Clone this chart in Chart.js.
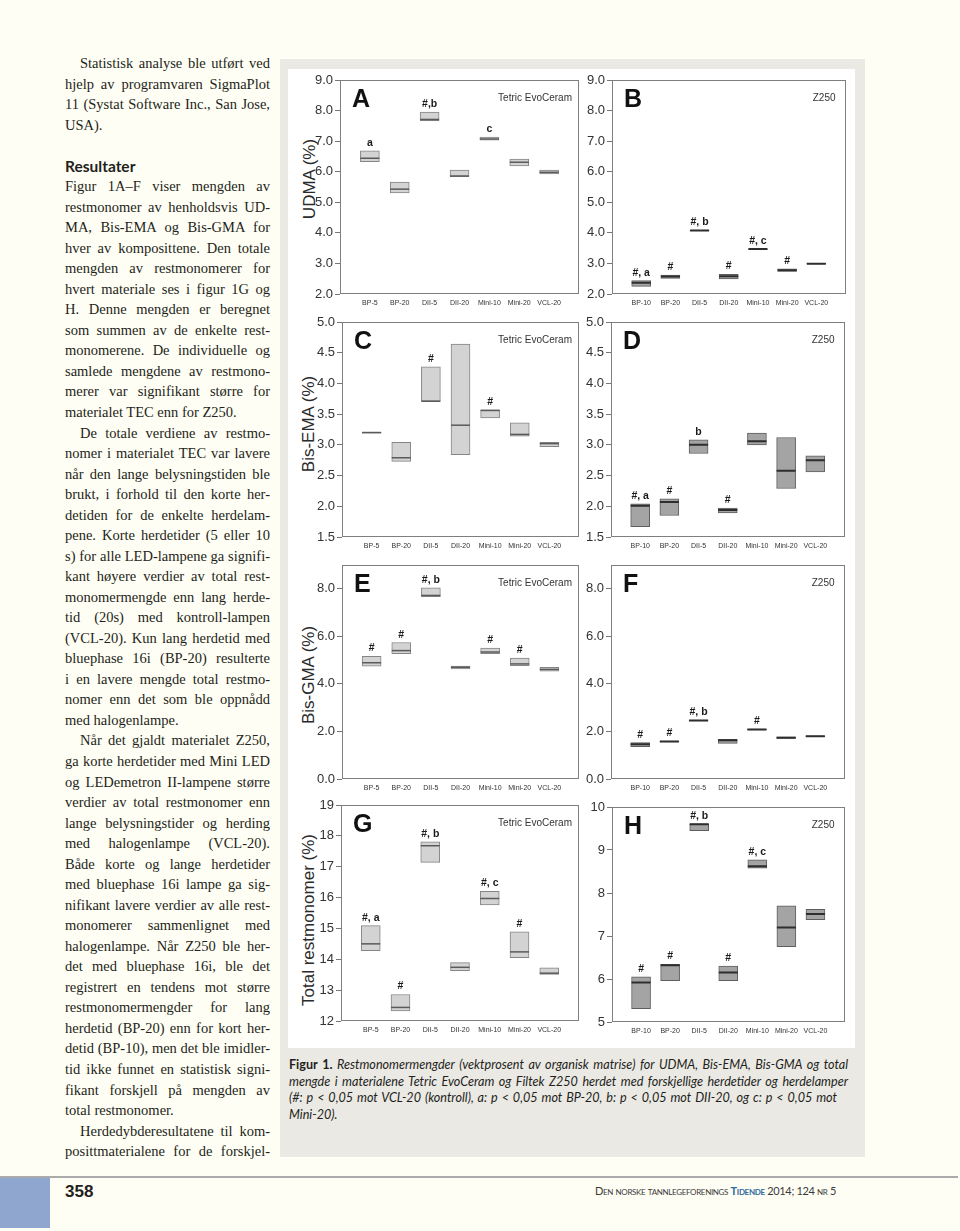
<!DOCTYPE html>
<html><head><meta charset="utf-8">
<script src="https://cdn.jsdelivr.net/npm/chart.js@4.4.1/dist/chart.umd.min.js"></script>
<style>
html,body{margin:0;padding:0;}
body{width:960px;height:1231px;background:#fffef4;position:relative;overflow:hidden;color:#231f20;}
.abs{position:absolute;}
#fig{left:280px;top:59px;width:585px;height:1098px;background:#ebe9e4;}
#white{left:288px;top:69px;width:567px;height:979px;background:#ffffff;}
.ln{position:absolute;left:65px;width:205px;white-space:nowrap;font-family:'Liberation Serif',serif;font-size:14.5px;line-height:20px;height:20px;}
.ln.head{font-family:Lato,'Open Sans',sans-serif;font-weight:700;font-size:15.5px;}
.cap{position:absolute;left:289px;white-space:nowrap;font-family:Lato,'Open Sans',sans-serif;font-style:italic;font-size:12.6px;line-height:16px;height:16px;}
.cap b{font-style:normal;font-weight:700;}
.ytitle{position:absolute;transform:translate(-50%,-50%) rotate(-90deg);white-space:nowrap;font-family:'Liberation Sans',Arial,sans-serif;font-size:17px;color:#2a2a2a;}
canvas{position:absolute;}
</style>
</head>
<body>
<div class="abs" id="fig"></div>
<div class="abs" id="white"></div>
<div class="ytitle" style="left:310px;top:179px">UDMA (%)</div>
<div class="ytitle" style="left:309px;top:424px">Bis-EMA (%)</div>
<div class="ytitle" style="left:309px;top:675px">Bis-GMA (%)</div>
<div class="ytitle" style="left:309px;top:920px">Total restmonomer (%)</div>
<div class="abs" style="left:0;top:1176px;width:958px;height:2px;background:#ababab"></div>
<div class="abs" style="left:0;top:1178px;width:50px;height:50px;background:#8fa6cf"></div>
<div class="abs" style="left:65px;top:1182px;font-family:'Liberation Sans Narrow','Liberation Sans',sans-serif;font-weight:700;font-size:17px;line-height:20px;color:#231f20">358</div>
<div class="abs" id="journal" style="left:595px;top:1184px;white-space:nowrap;font-family:Lato,'Open Sans',sans-serif;font-variant:small-caps;font-size:11px;line-height:14px;color:#3a3a3a"><span>Den norske tannlegeforenings <span style="color:#2f6b9c;font-weight:700">Tidende</span> 2014; 124 nr 5</span></div>
<script>
// ---------- DATA ----------
const tecCategories = ['BP-5','BP-20','DII-5','DII-20','Mini-10','Mini-20','VCL-20'];
const z250Categories = ['BP-10','BP-20','DII-5','DII-20','Mini-10','Mini-20','VCL-20'];

const udmaTicks = ['2.0','3.0','4.0','5.0','6.0','7.0','8.0','9.0'];
const bisEmaTicks = ['1.5','2.0','2.5','3.0','3.5','4.0','4.5','5.0'];
const bisGmaTicks = ['0.0','2.0','4.0','6.0','8.0'];
const totalTecTicks = ['12','13','14','15','16','17','18','19'];
const totalZ250Ticks = ['5','6','7','8','9','10'];

// A: UDMA, Tetric EvoCeram
const udmaTecLow    = [6.33, 5.31, 7.67, 5.84, 7.03, 6.19, 5.93];
const udmaTecHigh   = [6.68, 5.66, 7.95, 6.05, 7.13, 6.41, 6.05];
const udmaTecMedian = [6.44, 5.43, 7.71, 5.86, 7.07, 6.31, 5.98];
const udmaTecMarks  = ['a', '', '#,b', '', 'c', '', ''];
// B: UDMA, Z250
const udmaZLow    = [2.25, 2.51, 4.07, 2.49, 3.46, 2.74, 2.98];
const udmaZHigh   = [2.44, 2.62, 4.09, 2.64, 3.48, 2.82, 3.00];
const udmaZMedian = [2.37, 2.57, 4.08, 2.58, 3.47, 2.78, 2.99];
const udmaZMarks  = ['#, a', '#', '#, b', '#', '#, c', '#', ''];
// C: Bis-EMA, Tetric EvoCeram
const emaTecLow    = [3.19, 2.73, 3.71, 2.84, 3.44, 3.14, 2.97];
const emaTecHigh   = [3.21, 3.04, 4.27, 4.64, 3.57, 3.36, 3.04];
const emaTecMedian = [3.20, 2.79, 3.71, 3.32, 3.56, 3.17, 3.02];
const emaTecMarks  = ['', '', '#', '', '#', '', ''];
// D: Bis-EMA, Z250
const emaZLow    = [1.67, 1.85, 2.86, 1.89, 3.00, 2.29, 2.56];
const emaZHigh   = [2.04, 2.12, 3.08, 1.97, 3.19, 3.12, 2.82];
const emaZMedian = [2.01, 2.07, 3.00, 1.94, 3.06, 2.58, 2.75];
const emaZMarks  = ['#, a', '#', 'b', '#', '', '', ''];
// E: Bis-GMA, Tetric EvoCeram
const gmaTecLow    = [4.75, 5.27, 7.67, 4.63, 5.27, 4.77, 4.54];
const gmaTecHigh   = [5.16, 5.74, 8.04, 4.75, 5.51, 5.09, 4.70];
const gmaTecMedian = [4.89, 5.40, 7.72, 4.70, 5.34, 4.84, 4.61];
const gmaTecMarks  = ['#', '#', '#, b', '', '#', '#', ''];
// F: Bis-GMA, Z250
const gmaZLow    = [1.36, 1.56, 2.44, 1.50, 2.06, 1.71, 1.78];
const gmaZHigh   = [1.53, 1.60, 2.48, 1.67, 2.10, 1.77, 1.82];
const gmaZMedian = [1.46, 1.58, 2.46, 1.63, 2.08, 1.74, 1.80];
const gmaZMarks  = ['#', '#', '#, b', '', '#', '', ''];
// G: Total, Tetric EvoCeram
const totTecLow    = [14.28, 12.33, 17.14, 13.63, 15.76, 14.05, 13.51];
const totTecHigh   = [15.09, 12.86, 17.81, 13.89, 16.20, 14.89, 13.72];
const totTecMedian = [14.50, 12.44, 17.68, 13.74, 15.97, 14.24, 13.55];
const totTecMarks  = ['#, a', '#', '#, b', '', '#, c', '#', ''];
// H: Total, Z250
const totZLow    = [5.31, 5.96, 9.45, 5.96, 8.58, 6.75, 7.38];
const totZHigh   = [6.05, 6.34, 9.61, 6.30, 8.77, 7.70, 7.62];
const totZMedian = [5.92, 6.32, 9.60, 6.15, 8.62, 7.20, 7.51];
const totZMarks  = ['#', '#', '#, b', '#', '#, c', '', ''];

// ---------- TEXT ----------
const bodyLines = [
 {t:'Statistisk analyse ble utført ved', ind:1},
 {t:'hjelp av programvaren SigmaPlot'},
 {t:'11 (Systat Software Inc., San Jose,'},
 {t:'USA).', last:1},
 null,
 {t:'Resultater', head:1, last:1},
 {t:'Figur 1A–F viser mengden av'},
 {t:'restmonomer av henholdsvis UD-'},
 {t:'MA, Bis-EMA og Bis-GMA for'},
 {t:'hver av komposittene. Den totale'},
 {t:'mengden av restmonomerer for'},
 {t:'hvert materiale ses i figur 1G og'},
 {t:'H. Denne mengden er beregnet'},
 {t:'som summen av de enkelte rest-'},
 {t:'monomerene. De individuelle og'},
 {t:'samlede mengdene av restmono-'},
 {t:'merer var signifikant større for'},
 {t:'materialet TEC enn for Z250.', last:1},
 {t:'De totale verdiene av restmo-', ind:1},
 {t:'nomer i materialet TEC var lavere'},
 {t:'når den lange belysningstiden ble'},
 {t:'brukt, i forhold til den korte her-'},
 {t:'detiden for de enkelte herdelam-'},
 {t:'pene. Korte herdetider (5 eller 10'},
 {t:'s) for alle LED-lampene ga signifi-'},
 {t:'kant høyere verdier av total rest-'},
 {t:'monomermengde enn lang herde-'},
 {t:'tid (20s) med kontroll-lampen'},
 {t:'(VCL-20). Kun lang herdetid med'},
 {t:'bluephase 16i (BP-20) resulterte'},
 {t:'i en lavere mengde total restmo-'},
 {t:'nomer enn det som ble oppnådd'},
 {t:'med halogenlampe.', last:1},
 {t:'Når det gjaldt materialet Z250,', ind:1},
 {t:'ga korte herdetider med Mini LED'},
 {t:'og LEDemetron II-lampene større'},
 {t:'verdier av total restmonomer enn'},
 {t:'lange belysningstider og herding'},
 {t:'med halogenlampe (VCL-20).'},
 {t:'Både korte og lange herdetider'},
 {t:'med bluephase 16i lampe ga sig-'},
 {t:'nifikant lavere verdier av alle rest-'},
 {t:'monomerer sammenlignet med'},
 {t:'halogenlampe. Når Z250 ble her-'},
 {t:'det med bluephase 16i, ble det'},
 {t:'registrert en tendens mot større'},
 {t:'restmonomermengder for lang'},
 {t:'herdetid (BP-20) enn for kort her-'},
 {t:'detid (BP-10), men det ble imidler-'},
 {t:'tid ikke funnet en statistisk signi-'},
 {t:'fikant forskjell på mengden av'},
 {t:'total restmonomer.', last:1},
 {t:'Herdedybderesultatene til kom-', ind:1},
 {t:'posittmaterialene for de forskjel-'}
];
const captionLines = [
 {html:'<b>Figur 1.</b> Restmonomermengder (vektprosent av organisk matrise) for UDMA, Bis-EMA, Bis-GMA og total', w:559},
 {html:'mengde i materialene Tetric EvoCeram og Filtek Z250 herdet med forskjellige herdetider og herdelamper', w:559},
 {html:'(#: p &lt; 0,05 mot VCL-20 (kontroll), a: p &lt; 0,05 mot BP-20, b: p &lt; 0,05 mot DII-20, og c: p &lt; 0,05 mot', w:548},
 {html:'Mini-20).', w:0}
];

function fitSpacing(span, target){
  const nat = span.getBoundingClientRect().width;
  const n = (span.textContent.match(/ /g) || []).length;
  if (n > 0) span.style.wordSpacing = ((target - nat) / n) + 'px';
}
bodyLines.forEach((L, i) => {
  if (!L) return;
  const d = document.createElement('div');
  d.className = 'ln' + (L.head ? ' head' : '');
  d.style.top = (63 + 20.53 * i - 10) + 'px';
  const s = document.createElement('span');
  s.textContent = L.t;
  if (L.ind) d.style.paddingLeft = '15px';
  d.appendChild(s);
  document.body.appendChild(d);
  if (!L.last) fitSpacing(s, 205 - (L.ind ? 15 : 0));
});
captionLines.forEach((L, i) => {
  const d = document.createElement('div');
  d.className = 'cap';
  d.style.top = (1065 + 16.6 * i - 8) + 'px';
  const s = document.createElement('span');
  s.innerHTML = L.html;
  d.appendChild(s);
  document.body.appendChild(d);
  if (L.w) fitSpacing(s, L.w);
});
(function(){
  const s = document.querySelector('#journal > span');
  const nat = s.getBoundingClientRect().width;
  const chars = s.textContent.length;
  s.style.letterSpacing = ((241 - nat) / chars) + 'px';
})();

// ---------- CHARTS ----------
const TEC = {fill:'#d3d3d3', edge:'#858585', med:'#5a5a5a', medW:1.5};
const Z = {fill:'#a4a4a4', edge:'#5e5e5e', med:'#2e2e2e', medW:2};

const panels = [
 {id:'A', mat:'Tetric EvoCeram', cats:tecCategories, low:udmaTecLow, high:udmaTecHigh, med:udmaTecMedian, marks:udmaTecMarks, ticks:udmaTicks, min:2, max:9, st:TEC, l:340, t:80, r:582, b:294},
 {id:'B', mat:'Z250', cats:z250Categories, low:udmaZLow, high:udmaZHigh, med:udmaZMedian, marks:udmaZMarks, ticks:udmaTicks, min:2, max:9, st:Z, l:612, t:80, r:849, b:294},
 {id:'C', mat:'Tetric EvoCeram', cats:tecCategories, low:emaTecLow, high:emaTecHigh, med:emaTecMedian, marks:emaTecMarks, ticks:bisEmaTicks, min:1.5, max:5, st:TEC, l:342, t:322, r:582, b:537},
 {id:'D', mat:'Z250', cats:z250Categories, low:emaZLow, high:emaZHigh, med:emaZMedian, marks:emaZMarks, ticks:bisEmaTicks, min:1.5, max:5, st:Z, l:611, t:322, r:848, b:537},
 {id:'E', mat:'Tetric EvoCeram', cats:tecCategories, low:gmaTecLow, high:gmaTecHigh, med:gmaTecMedian, marks:gmaTecMarks, ticks:bisGmaTicks, min:0, max:9, st:TEC, l:342, t:565, r:582, b:779},
 {id:'F', mat:'Z250', cats:z250Categories, low:gmaZLow, high:gmaZHigh, med:gmaZMedian, marks:gmaZMarks, ticks:bisGmaTicks, min:0, max:9, st:Z, l:611, t:565, r:848, b:779},
 {id:'G', mat:'Tetric EvoCeram', cats:tecCategories, low:totTecLow, high:totTecHigh, med:totTecMedian, marks:totTecMarks, ticks:totalTecTicks, min:12, max:19, st:TEC, l:341, t:805, r:582, b:1021},
 {id:'H', mat:'Z250', cats:z250Categories, low:totZLow, high:totZHigh, med:totZMedian, marks:totZMarks, ticks:totalZ250Ticks, min:5, max:10, st:Z, l:612, t:807, r:848, b:1022}
];

const padL = 50, padT = 12, padR = 8, axH = 24;
panels.forEach(p => {
  const W = p.r - p.l + padL + padR, H = p.b - p.t + padT + axH;
  const cv = document.createElement('canvas');
  cv.width = W; cv.height = H;
  cv.style.left = (p.l - padL) + 'px'; cv.style.top = (p.t - padT) + 'px';
  cv.style.width = W + 'px'; cv.style.height = H + 'px';
  document.body.appendChild(cv);
  const pad = a => [null, ...a, null];
  const deco = {
    id: 'deco' + p.id,
    afterDatasetsDraw(chart) {
      const {ctx, chartArea: a, scales: {x, y}} = chart;
      ctx.save();
      ctx.strokeStyle = '#7f7f7f'; ctx.lineWidth = 1;
      ctx.strokeRect(Math.round(a.left) + 0.5, Math.round(a.top) + 0.5, Math.round(a.right - a.left) - 1, Math.round(a.bottom - a.top) - 1);
      ctx.fillStyle = '#111';
      ctx.textBaseline = 'alphabetic'; ctx.textAlign = 'left';
      ctx.font = "bold 25px 'Liberation Sans Narrow', 'Liberation Sans', Arial, sans-serif";
      ctx.fillText(p.id, a.left + 12, a.top + 27);
      ctx.fillStyle = '#333';
      ctx.font = "10px 'Liberation Sans', Arial, sans-serif";
      ctx.textAlign = 'right'; ctx.textBaseline = 'middle';
      ctx.fillText(p.mat, a.right - (p.mat === 'Z250' ? 10 : 7), a.top + 18);
      ctx.fillStyle = '#1a1a1a';
      ctx.font = "bold 10.5px 'Liberation Sans', Arial, sans-serif";
      ctx.textAlign = 'center'; ctx.textBaseline = 'alphabetic';
      p.marks.forEach((m, i) => {
        if (!m) return;
        ctx.fillText(m, x.getPixelForValue(i + 1), y.getPixelForValue(p.high[i]) - 5);
      });
      ctx.restore();
    }
  };
  new Chart(cv, {
    type: 'bar',
    data: {
      labels: ['', ...p.cats, ''],
      datasets: [
        {type: 'bar', data: pad(p.low.map((v, i) => [v, p.high[i]])), backgroundColor: p.st.fill, borderColor: p.st.edge, borderWidth: 1, borderSkipped: false, barThickness: 19, order: 2},
        {type: 'line', data: pad(p.med), showLine: false, pointStyle: 'line', pointRadius: 9.5, pointBorderWidth: p.st.medW, pointBorderColor: p.st.med, pointBackgroundColor: p.st.med, order: 1}
      ]
    },
    options: {
      responsive: false, animation: false, devicePixelRatio: 1, events: [],
      layout: {padding: {left: 0, top: padT, right: padR, bottom: 0}},
      plugins: {legend: {display: false}, tooltip: {enabled: false}, title: {display: false}},
      scales: {
        x: {
          offset: false,
          grid: {display: false, drawTicks: false},
          border: {display: false},
          ticks: {autoSkip: false, maxRotation: 0, minRotation: 0, padding: 5, color: '#333', font: {family: "'Liberation Sans', Arial, sans-serif", size: 7}},
          afterFit: s => { s.height = axH; }
        },
        y: {
          min: p.min, max: p.max,
          afterBuildTicks: s => { s.ticks = p.ticks.map(t => ({value: parseFloat(t)})); },
          grid: {drawOnChartArea: false, drawTicks: true, tickLength: 5, color: '#777'},
          border: {display: false},
          ticks: {callback: (v, i) => p.ticks[i], padding: 2, color: '#333', font: {family: "'Liberation Sans', Arial, sans-serif", size: 13}},
          afterFit: s => { s.width = padL; }
        }
      }
    },
    plugins: [deco]
  });
});
</script>
</body></html>
